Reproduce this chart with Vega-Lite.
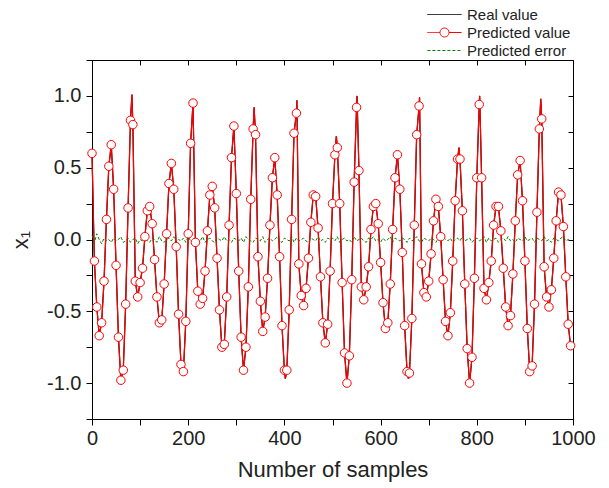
{
  "$schema": "https://vega.github.io/schema/vega-lite/v6.json",
  "width": 481,
  "height": 359,
  "autosize": "none",
  "padding": {"left": 92, "top": 60, "right": 36, "bottom": 69},
  "background": "white",
  "config": {
    "view": {"stroke": "black", "strokeWidth": 1},
    "font": "Liberation Sans",
    "axis": {
      "grid": false,
      "domainColor": "black",
      "tickColor": "black",
      "labelFont": "Liberation Sans",
      "titleFont": "Liberation Sans",
      "labelFontSize": 20,
      "titleFontSize": 22,
      "titleFontWeight": "normal",
      "labelColor": "#222",
      "titleColor": "#222",
      "labelOverlap": false,
      "labelFlush": false
    }
  },
  "datasets": {
    "pred": [
      {"s":0,"v":0.60},{"s":5,"v":-0.15},{"s":10,"v":-0.47},{"s":15,"v":-0.67},{"s":20,"v":-0.58},{"s":25,"v":-0.29},{"s":30,"v":0.14},{"s":35,"v":0.51},{"s":40,"v":0.66},{"s":45,"v":0.35},
      {"s":50,"v":-0.18},{"s":55,"v":-0.68},{"s":60,"v":-0.98},{"s":65,"v":-0.91},{"s":70,"v":-0.45},{"s":75,"v":0.22},{"s":80,"v":0.83},{"s":85,"v":0.80},{"s":90,"v":-0.29},{"s":95,"v":-0.40},
      {"s":100,"v":-0.30},{"s":105,"v":-0.20},{"s":110,"v":0.02},{"s":115,"v":0.20},{"s":120,"v":0.23},{"s":125,"v":0.11},{"s":130,"v":-0.14},{"s":135,"v":-0.40},{"s":140,"v":-0.58},{"s":145,"v":-0.56},
      {"s":150,"v":-0.31},{"s":155,"v":0.04},{"s":160,"v":0.39},{"s":165,"v":0.53},{"s":170,"v":0.35},{"s":175,"v":-0.05},{"s":180,"v":-0.52},{"s":185,"v":-0.87},{"s":190,"v":-0.92},{"s":195,"v":-0.57},
      {"s":200,"v":0.04},{"s":205,"v":0.67},{"s":210,"v":0.95},{"s":215,"v":-0.02},{"s":220,"v":-0.36},{"s":225,"v":-0.45},{"s":230,"v":-0.41},{"s":235,"v":-0.22},{"s":240,"v":0.06},{"s":245,"v":0.31},
      {"s":250,"v":0.37},{"s":255,"v":0.22},{"s":260,"v":-0.13},{"s":265,"v":-0.49},{"s":270,"v":-0.75},{"s":275,"v":-0.73},{"s":280,"v":-0.40},{"s":285,"v":0.10},{"s":290,"v":0.57},{"s":295,"v":0.79},
      {"s":300,"v":0.32},{"s":305,"v":-0.22},{"s":310,"v":-0.68},{"s":315,"v":-0.91},{"s":320,"v":-0.75},{"s":325,"v":-0.33},{"s":330,"v":0.28},{"s":335,"v":0.77},{"s":340,"v":0.73},{"s":345,"v":-0.12},
      {"s":350,"v":-0.43},{"s":355,"v":-0.64},{"s":360,"v":-0.54},{"s":365,"v":-0.27},{"s":370,"v":0.10},{"s":375,"v":0.43},{"s":380,"v":0.57},{"s":385,"v":0.31},{"s":390,"v":-0.12},{"s":395,"v":-0.60},
      {"s":400,"v":-0.91},{"s":405,"v":-0.91},{"s":410,"v":-0.49},{"s":415,"v":0.14},{"s":420,"v":0.74},{"s":425,"v":0.88},{"s":430,"v":-0.17},{"s":435,"v":-0.39},{"s":440,"v":-0.46},{"s":445,"v":-0.34},
      {"s":450,"v":-0.13},{"s":455,"v":0.12},{"s":460,"v":0.31},{"s":465,"v":0.30},{"s":470,"v":0.08},{"s":475,"v":-0.26},{"s":480,"v":-0.58},{"s":485,"v":-0.72},{"s":490,"v":-0.59},{"s":495,"v":-0.22},
      {"s":500,"v":0.25},{"s":505,"v":0.59},{"s":510,"v":0.64},{"s":515,"v":0.25},{"s":520,"v":-0.30},{"s":525,"v":-0.79},{"s":530,"v":-1.00},{"s":535,"v":-0.81},{"s":540,"v":-0.28},{"s":545,"v":0.40},
      {"s":550,"v":0.92},{"s":555,"v":0.48},{"s":560,"v":-0.33},{"s":565,"v":-0.42},{"s":570,"v":-0.33},{"s":575,"v":-0.19},{"s":580,"v":0.07},{"s":585,"v":0.23},{"s":590,"v":0.25},{"s":595,"v":0.11},
      {"s":600,"v":-0.16},{"s":605,"v":-0.44},{"s":610,"v":-0.62},{"s":615,"v":-0.58},{"s":620,"v":-0.31},{"s":625,"v":0.07},{"s":630,"v":0.43},{"s":635,"v":0.59},{"s":640,"v":0.35},{"s":645,"v":-0.09},
      {"s":650,"v":-0.60},{"s":655,"v":-0.92},{"s":660,"v":-0.93},{"s":665,"v":-0.55},{"s":670,"v":0.10},{"s":675,"v":0.73},{"s":680,"v":0.93},{"s":685,"v":-0.17},{"s":690,"v":-0.37},{"s":695,"v":-0.40},
      {"s":700,"v":-0.29},{"s":705,"v":-0.10},{"s":710,"v":0.13},{"s":715,"v":0.28},{"s":720,"v":0.23},{"s":725,"v":0.02},{"s":730,"v":-0.28},{"s":735,"v":-0.57},{"s":740,"v":-0.67},{"s":745,"v":-0.51},
      {"s":750,"v":-0.15},{"s":755,"v":0.27},{"s":760,"v":0.56},{"s":765,"v":0.56},{"s":770,"v":0.20},{"s":775,"v":-0.31},{"s":780,"v":-0.76},{"s":785,"v":-1.00},{"s":790,"v":-0.82},{"s":795,"v":-0.27},
      {"s":800,"v":0.43},{"s":805,"v":0.94},{"s":810,"v":0.43},{"s":815,"v":-0.34},{"s":820,"v":-0.42},{"s":825,"v":-0.30},{"s":830,"v":-0.15},{"s":835,"v":0.10},{"s":840,"v":0.23},{"s":845,"v":0.23},
      {"s":850,"v":0.06},{"s":855,"v":-0.20},{"s":860,"v":-0.47},{"s":865,"v":-0.60},{"s":870,"v":-0.53},{"s":875,"v":-0.24},{"s":880,"v":0.13},{"s":885,"v":0.45},{"s":890,"v":0.55},{"s":895,"v":0.27},
      {"s":900,"v":-0.15},{"s":905,"v":-0.62},{"s":910,"v":-0.92},{"s":915,"v":-0.88},{"s":920,"v":-0.45},{"s":925,"v":0.19},{"s":930,"v":0.77},{"s":935,"v":0.84},{"s":940,"v":-0.19},{"s":945,"v":-0.40},
      {"s":950,"v":-0.47},{"s":955,"v":-0.35},{"s":960,"v":-0.13},{"s":965,"v":0.13},{"s":970,"v":0.33},{"s":975,"v":0.31},{"s":980,"v":0.09},{"s":985,"v":-0.26},{"s":990,"v":-0.59},{"s":995,"v":-0.74},
      {"s":83,"v":1.01},{"s":337,"v":0.92},{"s":402,"v":-0.97},{"s":426,"v":0.97},{"s":508,"v":0.72},{"s":551,"v":1.0},{"s":658,"v":-0.97},{"s":681,"v":0.99},{"s":763,"v":0.64},{"s":806,"v":1.0},{"s":933,"v":0.98}
    ],
    "err": [
      {"s":0,"v":0.03},{"s":5,"v":-0.02},{"s":10,"v":0.04},{"s":15,"v":0.0},{"s":20,"v":-0.03},{"s":25,"v":0.01},{"s":30,"v":-0.01},{"s":35,"v":0.0},{"s":40,"v":-0.02},{"s":45,"v":0.01},
      {"s":50,"v":-0.01},{"s":55,"v":0.0},{"s":60,"v":0.02},{"s":65,"v":-0.02},{"s":70,"v":-0.01},{"s":75,"v":0.01},{"s":80,"v":-0.02},{"s":85,"v":0.0},{"s":90,"v":0.01},{"s":95,"v":-0.03},
      {"s":100,"v":0.0},{"s":105,"v":-0.01},{"s":110,"v":0.02},{"s":115,"v":-0.01},{"s":120,"v":-0.02},{"s":125,"v":0.01},{"s":130,"v":0.0},{"s":135,"v":-0.02},{"s":140,"v":0.02},{"s":145,"v":-0.01},
      {"s":150,"v":-0.02},{"s":155,"v":0.0},{"s":160,"v":0.01},{"s":165,"v":-0.01},{"s":170,"v":0.02},{"s":175,"v":-0.02},{"s":180,"v":0.0},{"s":185,"v":-0.01},{"s":190,"v":0.01},{"s":195,"v":-0.02},
      {"s":200,"v":0.02},{"s":205,"v":-0.01},{"s":210,"v":-0.03},{"s":215,"v":0.01},{"s":220,"v":0.0},{"s":225,"v":-0.01},{"s":230,"v":0.02},{"s":235,"v":-0.02},{"s":240,"v":0.0},{"s":245,"v":0.01},
      {"s":250,"v":-0.01},{"s":255,"v":-0.02},{"s":260,"v":0.01},{"s":265,"v":0.0},{"s":270,"v":-0.01},{"s":275,"v":0.02},{"s":280,"v":-0.01},{"s":285,"v":0.0},{"s":290,"v":-0.02},{"s":295,"v":0.01},
      {"s":300,"v":0.0},{"s":305,"v":-0.01},{"s":310,"v":0.01},{"s":315,"v":-0.02},{"s":320,"v":0.02},{"s":325,"v":0.0},{"s":330,"v":-0.01},{"s":335,"v":-0.02},{"s":340,"v":0.01},{"s":345,"v":0.0},
      {"s":350,"v":-0.01},{"s":355,"v":0.02},{"s":360,"v":-0.02},{"s":365,"v":0.0},{"s":370,"v":0.01},{"s":375,"v":-0.01},{"s":380,"v":0.0},{"s":385,"v":0.02},{"s":390,"v":-0.01},{"s":395,"v":-0.02},
      {"s":400,"v":0.01},{"s":405,"v":0.0},{"s":410,"v":-0.01},{"s":415,"v":0.02},{"s":420,"v":-0.02},{"s":425,"v":0.01},{"s":430,"v":-0.01},{"s":435,"v":0.0},{"s":440,"v":0.01},{"s":445,"v":-0.01},
      {"s":450,"v":-0.02},{"s":455,"v":0.01},{"s":460,"v":0.0},{"s":465,"v":-0.01},{"s":470,"v":0.02},{"s":475,"v":-0.01},{"s":480,"v":0.0},{"s":485,"v":-0.02},{"s":490,"v":0.01},{"s":495,"v":0.0},
      {"s":500,"v":0.01},{"s":505,"v":-0.01},{"s":510,"v":0.02},{"s":515,"v":-0.02},{"s":520,"v":0.0},{"s":525,"v":0.01},{"s":530,"v":-0.01},{"s":535,"v":0.0},{"s":540,"v":-0.02},{"s":545,"v":0.02},
      {"s":550,"v":-0.01},{"s":555,"v":0.0},{"s":560,"v":0.01},{"s":565,"v":-0.01},{"s":570,"v":-0.02},{"s":575,"v":0.01},{"s":580,"v":0.0},{"s":585,"v":0.02},{"s":590,"v":-0.01},{"s":595,"v":0.0},
      {"s":600,"v":-0.02},{"s":605,"v":0.01},{"s":610,"v":-0.01},{"s":615,"v":0.0},{"s":620,"v":0.02},{"s":625,"v":-0.02},{"s":630,"v":0.01},{"s":635,"v":0.0},{"s":640,"v":-0.01},{"s":645,"v":0.01},
      {"s":650,"v":0.0},{"s":655,"v":-0.02},{"s":660,"v":0.01},{"s":665,"v":-0.01},{"s":670,"v":0.0},{"s":675,"v":0.02},{"s":680,"v":-0.01},{"s":685,"v":-0.02},{"s":690,"v":0.01},{"s":695,"v":0.0},
      {"s":700,"v":-0.01},{"s":705,"v":0.01},{"s":710,"v":0.0},{"s":715,"v":-0.02},{"s":720,"v":0.01},{"s":725,"v":-0.01},{"s":730,"v":0.02},{"s":735,"v":0.0},{"s":740,"v":-0.01},{"s":745,"v":0.01},
      {"s":750,"v":-0.02},{"s":755,"v":0.0},{"s":760,"v":0.01},{"s":765,"v":-0.01},{"s":770,"v":0.02},{"s":775,"v":-0.01},{"s":780,"v":0.0},{"s":785,"v":0.01},{"s":790,"v":-0.02},{"s":795,"v":0.0},
      {"s":800,"v":0.01},{"s":805,"v":-0.01},{"s":810,"v":0.0},{"s":815,"v":0.02},{"s":820,"v":-0.02},{"s":825,"v":0.01},{"s":830,"v":-0.01},{"s":835,"v":0.0},{"s":840,"v":0.01},{"s":845,"v":-0.02},
      {"s":850,"v":0.0},{"s":855,"v":0.01},{"s":860,"v":-0.01},{"s":865,"v":0.02},{"s":870,"v":-0.01},{"s":875,"v":0.0},{"s":880,"v":-0.02},{"s":885,"v":0.01},{"s":890,"v":0.0},{"s":895,"v":-0.01},
      {"s":900,"v":0.02},{"s":905,"v":-0.01},{"s":910,"v":0.0},{"s":915,"v":0.01},{"s":920,"v":-0.02},{"s":925,"v":0.01},{"s":930,"v":0.0},{"s":935,"v":-0.01},{"s":940,"v":0.02},{"s":945,"v":-0.01},
      {"s":950,"v":0.0},{"s":955,"v":-0.02},{"s":960,"v":0.01},{"s":965,"v":0.0},{"s":970,"v":-0.01},{"s":975,"v":0.01},{"s":980,"v":0.02},{"s":985,"v":-0.01},{"s":990,"v":0.0},{"s":995,"v":-0.01}
    ]
  },
  "layer": [
    {
      "data": {"name": "pred"},
      "mark": {"type": "line", "strokeWidth": 1.2},
      "encoding": {
        "x": {"field": "s", "type": "quantitative", "scale": {"domain": [0, 1000], "nice": false, "zero": false},
              "axis": {"orient": "bottom", "values": [0,100,200,300,400,500,600,700,800,900,1000],
                       "labelExpr": "datum.value % 200 === 0 ? datum.label : ''", "format": "d",
                       "tickSize": 6, "labelPadding": 3, "title": "Number of samples", "titlePadding": 11}},
        "y": {"field": "v", "type": "quantitative", "scale": {"domain": [-1.25, 1.25], "nice": false, "zero": false},
              "axis": {"orient": "left", "values": [-1.25,-1,-0.75,-0.5,-0.25,0,0.25,0.5,0.75,1,1.25],
                       "labelExpr": "datum.value % 0.5 === 0 ? (datum.value < 0 ? '-' : '') + format(abs(datum.value), '.1f') : ''",
                       "tickSize": 6, "labelPadding": 5, "title": "x₁", "titlePadding": 14}},
        "color": {
          "datum": "Real value",
          "scale": {"domain": ["Real value", "Predicted value", "Predicted error"], "range": ["#000000", "#ff0000", "#008000"]},
          "legend": {
            "orient": "none", "legendX": 343, "legendY": -55, "title": null,
            "padding": 0, "rowPadding": 0, "labelFontSize": 15, "labelFont": "Liberation Sans", "labelColor": "#222",
            "labelOffset": 13, "symbolSize": 324, "symbolStrokeWidth": 1, "symbolType": "M-1.9,0H1.9",
            "encode": {"symbols": {"update": {
              "shape": {"signal": "datum.value === 'Predicted value' ? 'M-1.9,0H-0.5M0.5,0H1.9M0.5,0A0.5,0.5,0,1,1,-0.5,0A0.5,0.5,0,1,1,0.5,0' : 'M-1.9,0H1.9'"},
              "strokeDash": {"signal": "datum.value === 'Predicted error' ? [3,2] : [1,0]"},
              "fill": {"value": "white"}
            }}}
          }
        }
      }
    },
    {
      "data": {"name": "err"},
      "mark": {"type": "line", "strokeWidth": 1, "strokeDash": [3, 2]},
      "encoding": {
        "x": {"field": "s", "type": "quantitative",
              "axis": {"orient": "top", "values": [0,100,200,300,400,500,600,700,800,900,1000], "labels": false, "tickSize": -5, "title": null}},
        "y": {"field": "v", "type": "quantitative",
              "axis": {"orient": "right", "values": [-1.25,-1,-0.75,-0.5,-0.25,0,0.25,0.5,0.75,1,1.25], "labels": false, "tickSize": -5, "title": null}},
        "color": {"datum": "Predicted error"}
      }
    },
    {
      "data": {"name": "pred"},
      "mark": {"type": "line", "strokeWidth": 1.2},
      "encoding": {
        "x": {"field": "s", "type": "quantitative", "axis": null},
        "y": {"field": "v", "type": "quantitative", "axis": null},
        "color": {"datum": "Predicted value"}
      }
    },
    {
      "data": {"name": "pred"},
      "transform": [{"filter": "datum.s % 5 === 0"}],
      "mark": {"type": "point", "filled": true, "fill": "white", "stroke": "#ff0000", "strokeWidth": 1, "size": 72, "opacity": 1},
      "encoding": {
        "x": {"field": "s", "type": "quantitative", "axis": null},
        "y": {"field": "v", "type": "quantitative", "axis": null}
      }
    }
  ],
  "resolve": {"axis": {"x": "independent", "y": "independent"}}
}
